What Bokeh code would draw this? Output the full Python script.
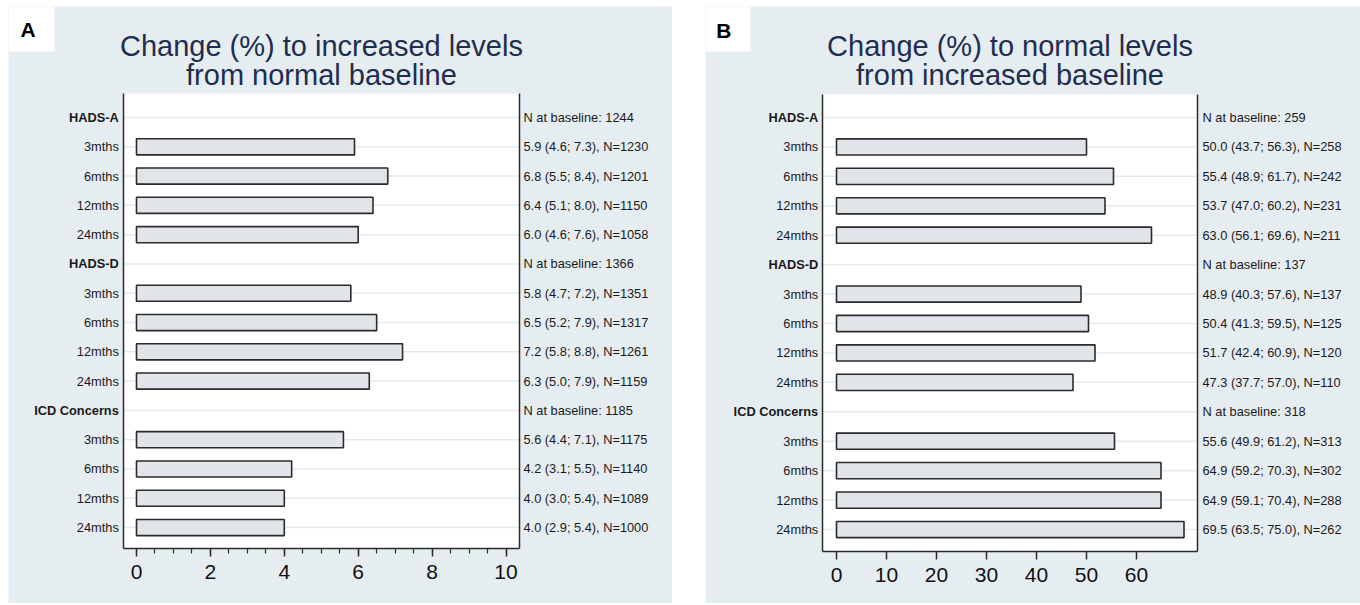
from bokeh.plotting import figure
from bokeh.models import (Range1d, FixedTicker, LinearAxis, Label,
                          ColumnDataSource, BoxAnnotation, Spacer)
from bokeh.layouts import row, column
from bokeh.core.properties import value
from bokeh.embed import file_html
from bokeh.resources import INLINE

# ---------------- data ----------------
groups = ["HADS-A", "HADS-D", "ICD Concerns"]
periods = ["3mths", "6mths", "12mths", "24mths"]

a_title = ["Change (%) to increased levels", "from normal baseline"]
a_pct = [5.9, 6.8, 6.4, 6.0, 5.8, 6.5, 7.2, 6.3, 5.6, 4.2, 4.0, 4.0]
a_lo = [4.6, 5.5, 5.1, 4.6, 4.7, 5.2, 5.8, 5.0, 4.4, 3.1, 3.0, 2.9]
a_hi = [7.3, 8.4, 8.0, 7.6, 7.2, 7.9, 8.8, 7.9, 7.1, 5.5, 5.4, 5.4]
a_n = [1230, 1201, 1150, 1058, 1351, 1317, 1261, 1159, 1175, 1140, 1089, 1000]
a_base = [1244, 1366, 1185]
a_ticks = [0, 2, 4, 6, 8, 10]
a_minor = [0, 0.5, 1, 1.5, 2, 2.5, 3, 3.5, 4, 4.5, 5, 5.5, 6, 6.5, 7, 7.5,
           8, 8.5, 9, 9.5, 10]

b_title = ["Change (%) to normal levels", "from increased baseline"]
b_pct = [50.0, 55.4, 53.7, 63.0, 48.9, 50.4, 51.7, 47.3, 55.6, 64.9, 64.9, 69.5]
b_lo = [43.7, 48.9, 47.0, 56.1, 40.3, 41.3, 42.4, 37.7, 49.9, 59.2, 59.1, 63.5]
b_hi = [56.3, 61.7, 60.2, 69.6, 57.6, 59.5, 60.9, 57.0, 61.2, 70.3, 70.4, 75.0]
b_n = [258, 242, 231, 211, 137, 125, 120, 110, 313, 302, 288, 262]
b_base = [259, 137, 318]
b_ticks = [0, 10, 20, 30, 40, 50, 60]
b_minor = []

# ---------------- style ----------------
FONT = "Liberation Sans"
PANEL_BG = "#e6edf1"
BAR_FILL = "#e1e5ea"
DARK = "#2b2b2b"
TXT = "#1a1a1a"
TITLE_C = "#1f2d4f"
GRID_C = "#e3ebf1"


def make_panel(letter, title, pct, lo, hi, n, base, ticks, minor, W, H,
               x0px, sx, y0px, sy, plot_box, left_px, right_px,
               title_py, letter_pos, letter_box):
    # layout helpers: canvas pixel -> data coordinate
    def X(c):
        return (c - x0px) / sx

    def Y(c):
        return (c - y0px) / sy

    pl, pr, pt, pb = X(plot_box[0]), X(plot_box[1]), Y(plot_box[2]), Y(plot_box[3])

    p = figure(frame_width=W, frame_height=H, output_backend="svg",
               toolbar_location=None, title=None, min_border=0,
               x_range=Range1d(X(0), X(W)), y_range=Range1d(Y(H), Y(0)))
    p.background_fill_color = PANEL_BG
    p.border_fill_color = PANEL_BG
    p.outline_line_color = None
    p.xgrid.visible = False
    p.ygrid.visible = False

    # white plot region
    p.add_layout(BoxAnnotation(left=pl, right=pr, top=pt, bottom=pb,
                               fill_color="white", fill_alpha=1.0,
                               line_color=None, level="underlay"))
    # letter box
    p.add_layout(BoxAnnotation(left=X(letter_box[0]), right=X(letter_box[1]),
                               top=Y(letter_box[2]), bottom=Y(letter_box[3]),
                               fill_color="white", fill_alpha=1.0,
                               line_color=None, level="underlay"))

    # rows
    ys, labels, is_head, rtxt, bar_y = [], [], [], [], []
    k = 0
    for gi, g in enumerate(groups):
        ys.append(k); labels.append(g); is_head.append(True)
        rtxt.append(f"N at baseline: {base[gi]}")
        k += 1
        for pi, per in enumerate(periods):
            i = gi * len(periods) + pi
            ys.append(k); labels.append(per); is_head.append(False)
            rtxt.append(f"{pct[i]:.1f} ({lo[i]:.1f}; {hi[i]:.1f}), N={n[i]}")
            bar_y.append(k)
            k += 1

    # horizontal grid lines inside the plot region
    p.segment(x0=pl, x1=pr, y0=ys, y1=ys, line_color=GRID_C, line_width=1.5)

    # bars
    src = ColumnDataSource(dict(y=bar_y, pct=pct))
    p.hbar(y="y", left=0, right="pct", height=0.55, source=src,
           fill_color=BAR_FILL, line_color=DARK, line_width=1.6)

    # x axis at the bottom of the plot region
    xa = p.xaxis[0]
    xa.fixed_location = pb
    xa.bounds = (pl, pr)
    xa.ticker = FixedTicker(ticks=ticks, minor_ticks=minor)
    xa.axis_line_color = DARK
    xa.axis_line_width = 1.5
    xa.major_tick_line_color = DARK
    xa.major_tick_line_width = 1.5
    xa.major_tick_in = 0
    xa.major_tick_out = 8
    xa.minor_tick_line_color = DARK
    xa.minor_tick_line_width = 1.2
    xa.minor_tick_in = 0
    xa.minor_tick_out = 5
    xa.major_label_text_font = FONT
    xa.major_label_text_font_size = "21px"
    xa.major_label_text_color = "#111111"
    xa.major_label_standoff = 8

    # frame lines left / right as axes without ticks
    ya = p.yaxis[0]
    ya.fixed_location = pl
    ya.bounds = (pt, pb)
    ya.ticker = FixedTicker(ticks=[])
    ya.axis_line_color = DARK
    ya.axis_line_width = 1.5
    ya.major_tick_line_color = None
    ya.minor_tick_line_color = None
    ya.major_label_text_font_size = "0px"
    ra = LinearAxis(ticker=FixedTicker(ticks=[]), axis_line_color=DARK,
                    axis_line_width=1.5, major_tick_line_color=None,
                    minor_tick_line_color=None, fixed_location=pr,
                    bounds=(pt, pb), major_label_text_font_size="0px")
    p.add_layout(ra, "right")

    # left labels
    hy = [y for y, h in zip(ys, is_head) if h]
    ht = [l for l, h in zip(labels, is_head) if h]
    my = [y for y, h in zip(ys, is_head) if not h]
    mt = [l for l, h in zip(labels, is_head) if not h]
    for yy, tt, style in ((hy, ht, "bold"), (my, mt, "normal")):
        p.text(x=X(left_px), y=yy, text=tt, text_align="right",
               text_baseline="middle", text_font=value(FONT),
               text_font_size="12.8px", text_font_style=style,
               text_color=TXT)
    # right labels
    p.text(x=X(right_px), y=ys, text=rtxt, text_align="left",
           text_baseline="middle", text_font=value(FONT),
           text_font_size="12.8px", text_color=TXT)

    # title
    for line, c in zip(title, title_py):
        p.add_layout(Label(x=(pl + pr) / 2, y=Y(c), text=line,
                           text_align="center", text_baseline="middle",
                           text_font=FONT, text_font_size="29px",
                           text_color=TITLE_C))
    # panel letter
    p.add_layout(Label(x=X(letter_pos[0]), y=Y(letter_pos[1]), text=letter,
                       text_align="center", text_baseline="middle",
                       text_font=FONT, text_font_style="bold",
                       text_font_size="21px", text_color="#000000"))
    return p


pa = make_panel("A", a_title, a_pct, a_lo, a_hi, a_n, a_base, a_ticks, a_minor,
                W=664, H=597, x0px=128, sx=36.95, y0px=111, sy=29.29,
                plot_box=(114.7, 511.2, 87, 542), left_px=110.3,
                right_px=515, title_py=(39, 68), letter_pos=(19.5, 23),
                letter_box=(0, 46, 0, 45))
pb = make_panel("B", b_title, b_pct, b_lo, b_hi, b_n, b_base, b_ticks, b_minor,
                W=655, H=597, x0px=131, sx=5.0, y0px=111, sy=29.43,
                plot_box=(117, 492, 88, 545), left_px=112.7,
                right_px=497, title_py=(39, 68), letter_pos=(18.3, 24),
                letter_box=(0, 45, 0, 45))

lay = column(Spacer(height=6),
             row(Spacer(width=8), pa, Spacer(width=33), pb))
open("out.html", "w").write(file_html(lay, INLINE))
